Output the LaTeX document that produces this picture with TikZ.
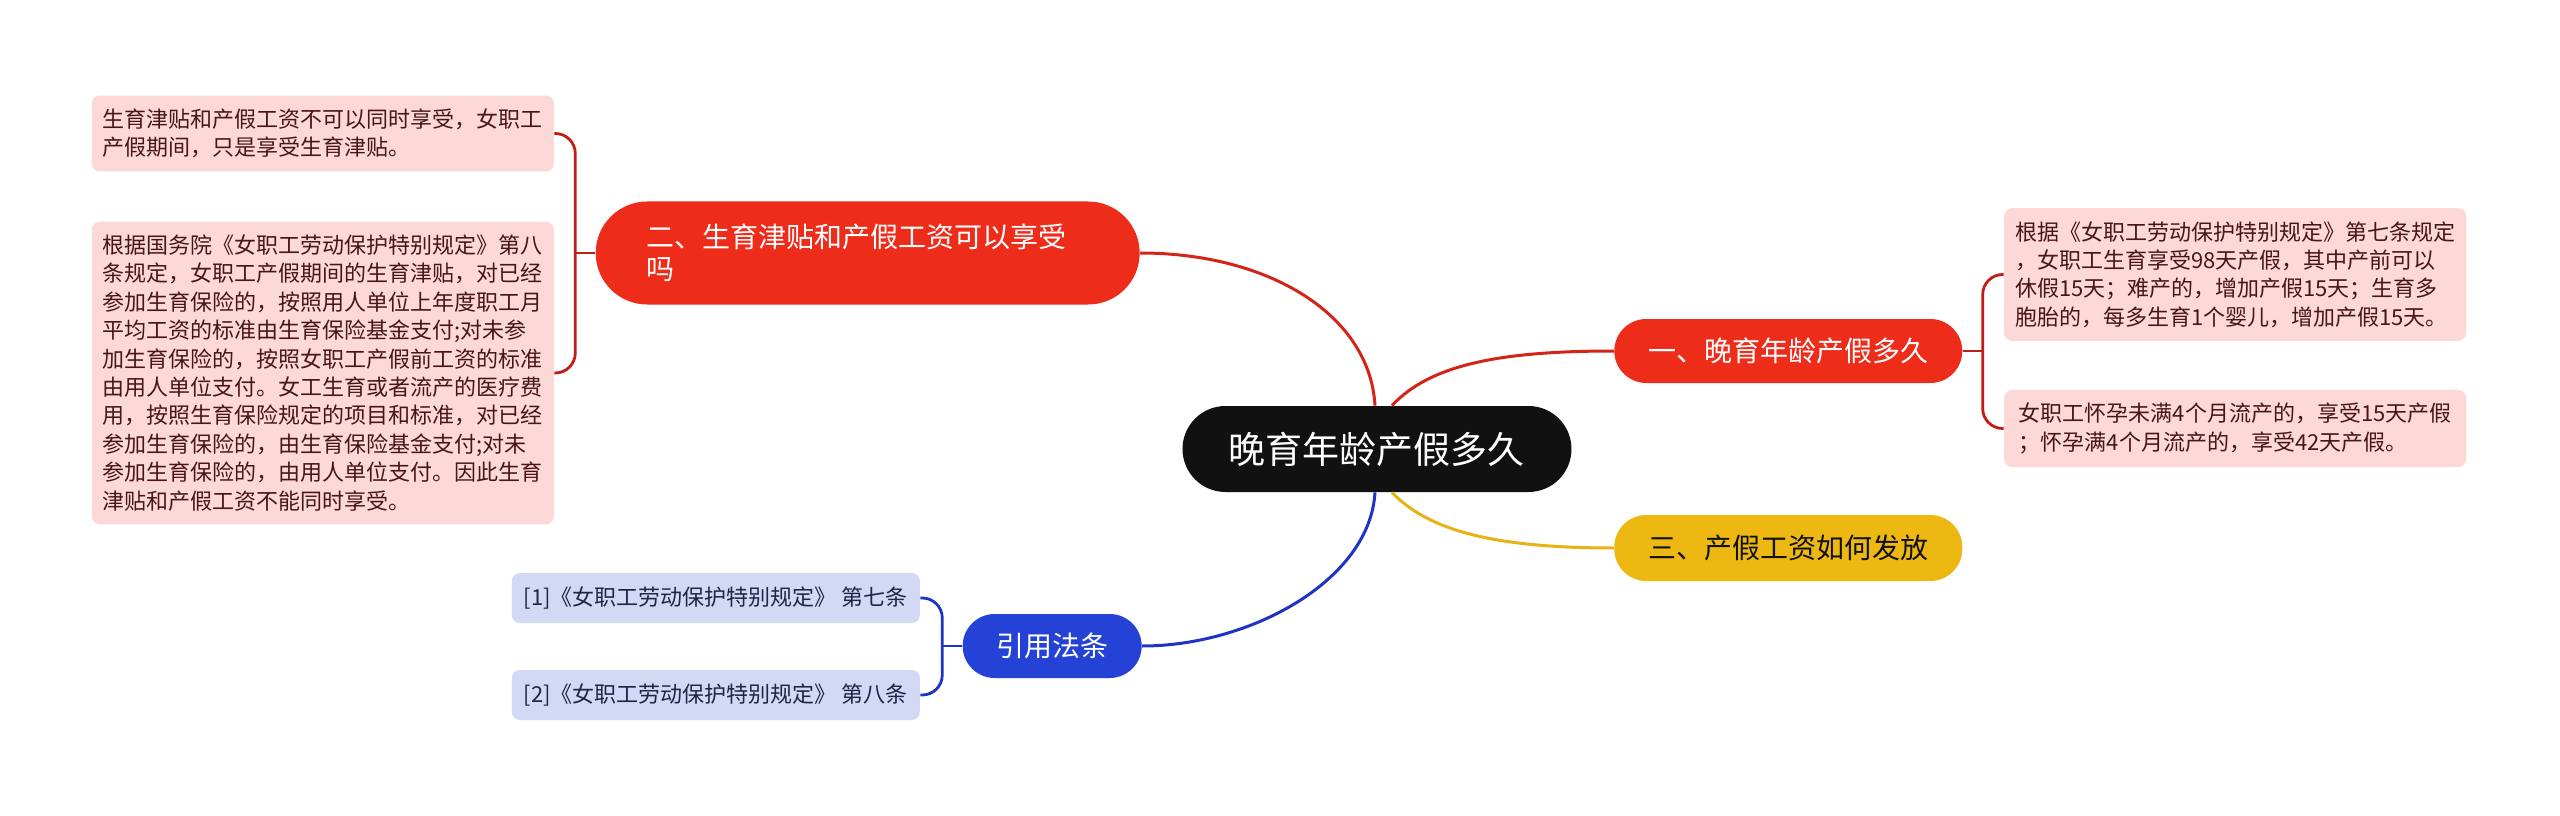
\documentclass[tikz,border=0pt]{standalone}
\usepackage{fontspec}
\newfontfamily\cjk{Noto Sans CJK SC}
\usetikzlibrary{positioning,calc}
\definecolor{rootblack}{RGB}{17,17,17}
\definecolor{topicred}{RGB}{238,44,26}
\definecolor{topicyellow}{RGB}{238,184,18}
\definecolor{topicblue}{RGB}{36,66,214}
\definecolor{notepink}{RGB}{252,217,214}
\definecolor{notetext}{RGB}{72,22,22}
\definecolor{reflav}{RGB}{211,216,245}
\definecolor{reftext}{RGB}{32,36,72}
\definecolor{linkred}{RGB}{212,36,24}
\definecolor{linkdark}{RGB}{192,28,24}
\definecolor{linkyellow}{RGB}{232,178,20}
\definecolor{linkblue}{RGB}{32,52,196}
\tikzset{
  mmlink/.style={line width=1.5pt},
  mmbrace/.style={line width=1.4pt,rounded corners=10pt},
  rootbox/.style={fill=rootblack,text=white,rounded corners=21.5pt,minimum width=194.5pt,
                  minimum height=43pt,inner sep=0pt,font=\cjk\fontsize{18.5}{22}\selectfont},
  topicbox/.style={rounded corners=16pt,minimum height=32pt,inner xsep=14pt,
                   font=\cjk\fontsize{14}{16.5}\selectfont},
  notebox/.style={fill=notepink,text=notetext,rounded corners=4pt,align=left,
                  minimum width=231pt,inner xsep=5pt,inner ysep=6.6pt,
                  font=\cjk\fontsize{11}{14.2}\selectfont},
  refbox/.style={fill=reflav,text=reftext,rounded corners=4pt,minimum width=204pt,
                 minimum height=25pt,inner sep=2pt,font=\cjk\fontsize{11}{14}\selectfont}
}

\begin{document}
\begin{tikzpicture}
\useasboundingbox (-688.5pt,-183pt) rectangle (591.5pt,224.5pt);

% root and main topics
\node[rootbox] (root) at (0,0) {晚育年龄产假多久};
\node[topicbox, fill=topicred, text=white, minimum width=174pt, right=21pt of root, yshift=49pt] (howlong)
   {一、晚育年龄产假多久};
\node[topicbox, fill=topicyellow, text=rootblack, minimum width=174pt, minimum height=33pt,
      right=21pt of root, yshift=-49.5pt] (salary)
   {三、产假工资如何发放};
\node[topicbox, fill=topicred, text=white, text width=221pt, inner xsep=25.5pt, inner ysep=0pt,
      minimum height=51.5pt, rounded corners=25.75pt, align=left, font=\cjk\fontsize{14}{16}\selectfont,
      left=21pt of root, yshift=98pt] (allow)
   {二、生育津贴和产假工资可以享受\\吗};
\node[topicbox, fill=topicblue, text=white, minimum width=89.5pt, left=20pt of root, yshift=-98.5pt] (laws)
   {引用法条};

% notes
\node[notebox, right=20.5pt of howlong, yshift=38.25pt] (howlongA)
   {根据《女职工劳动保护特别规定》第七条规定\\
    ，女职工生育享受98天产假，其中产前可以\\
    休假15天；难产的，增加产假15天；生育多\\
    胞胎的，每多生育1个婴儿，增加产假15天。};
\node[notebox, right=20.5pt of howlong, yshift=-38.75pt] (howlongB)
   {女职工怀孕未满4个月流产的，享受15天产假\\
    ；怀孕满4个月流产的，享受42天产假。};
\node[notebox, left=20.5pt of allow, yshift=59.75pt] (allowA)
   {生育津贴和产假工资不可以同时享受，女职工\\
    产假期间，只是享受生育津贴。};
\node[notebox, left=20.5pt of allow, yshift=-60pt] (allowB)
   {根据国务院《女职工劳动保护特别规定》第八\\
    条规定，女职工产假期间的生育津贴，对已经\\
    参加生育保险的，按照用人单位上年度职工月\\
    平均工资的标准由生育保险基金支付;对未参\\
    加生育保险的，按照女职工产假前工资的标准\\
    由用人单位支付。女工生育或者流产的医疗费\\
    用，按照生育保险规定的项目和标准，对已经\\
    参加生育保险的，由生育保险基金支付;对未\\
    参加生育保险的，由用人单位支付。因此生育\\
    津贴和产假工资不能同时享受。};
\node[refbox, left=21pt of laws, yshift=24pt] (lawsA) {[1]《女职工劳动保护特别规定》 第七条};
\node[refbox, left=21pt of laws, yshift=-24.5pt] (lawsB) {[2]《女职工劳动保护特别规定》 第八条};

% links from root
\coordinate (rootNa) at ($(root.north)+(-1pt,0)$);
\coordinate (rootNb) at ($(root.north)+(7.5pt,0)$);
\coordinate (rootSa) at ($(root.south)+(-1pt,0)$);
\coordinate (rootSb) at ($(root.south)+(7.5pt,0)$);
\draw[mmlink, draw=linkred] (rootNb) .. controls +(19pt,20.5pt) and +(-57pt,0pt) .. (howlong.west);
\draw[mmlink, draw=linkred] (rootNa) .. controls +(-2.5pt,45pt) and +(65pt,0pt) .. (allow.east);
\draw[mmlink, draw=linkyellow] (rootSb) .. controls +(19pt,-20pt) and +(-57pt,0pt) .. (salary.west);
\draw[mmlink, draw=linkblue] (rootSa) .. controls +(-2.5pt,-44pt) and +(54pt,0pt) .. (laws.east);

% braces to notes
\coordinate[right=10pt of howlong.east] (howlongJ);
\coordinate[left=10pt of allow.west] (allowJ);
\coordinate[left=10pt of laws.west] (lawsJ);
\draw[mmbrace, draw=linkdark] (howlong.east) -- (howlongJ);
\draw[mmbrace, draw=linkdark] (howlongJ) |- (howlongA.west);
\draw[mmbrace, draw=linkdark] (howlongJ) |- (howlongB.west);
\draw[mmbrace, draw=linkdark] (allow.west) -- (allowJ);
\draw[mmbrace, draw=linkdark] (allowJ) |- (allowA.east);
\draw[mmbrace, draw=linkdark] (allowJ) |- (allowB.east);
\draw[mmbrace, draw=linkblue] (laws.west) -- (lawsJ);
\draw[mmbrace, draw=linkblue] (lawsJ) |- (lawsA.east);
\draw[mmbrace, draw=linkblue] (lawsJ) |- (lawsB.east);
\end{tikzpicture}
\end{document}
